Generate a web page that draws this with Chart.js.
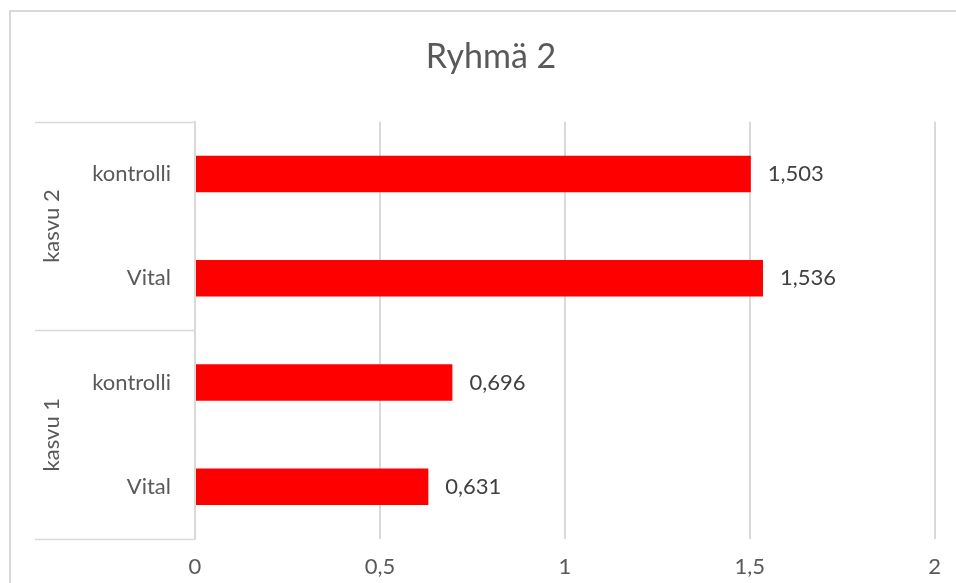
<!DOCTYPE html>
<html>
<head>
<meta charset="utf-8">
<script src="https://cdn.jsdelivr.net/npm/chart.js@4"></script>
<style>
  body { margin: 0; background: #fff; }
</style>
</head>
<body>
<canvas id="chart" width="956" height="583"></canvas>
<script>
// ================================
// DATA
// ================================
const groups = ["kasvu 2", "kasvu 1"];
const groupSizes = [2, 2];
const treatments = ["kontrolli", "Vital", "kontrolli", "Vital"];
const values = [1.503, 1.536, 0.696, 0.631];

const FONT = "Lato";
const GRID = "#d9d9d9";

function fi(v) {
  return String(v).replace(".", ",");
}

// ================================
// FRAME, GROUP LABELS, VALUE LABELS
// ================================
const groupAxis = {
  id: "groupAxis",
  beforeDraw(chart) {
    const ctx = chart.ctx;
    ctx.save();
    ctx.strokeStyle = GRID;
    ctx.lineWidth = 2;
    ctx.beginPath();
    ctx.moveTo(10, chart.height);
    ctx.lineTo(10, 11);
    ctx.lineTo(chart.width, 11);
    ctx.stroke();
    ctx.restore();
  },
  afterDraw(chart) {
    const ctx = chart.ctx;
    const y = chart.scales.y;
    const area = chart.chartArea;
    const left = 35;
    ctx.save();
    ctx.strokeStyle = GRID;
    ctx.lineWidth = 1.5;

    let start = 0;
    const edges = [area.top];
    groups.forEach((g, gi) => {
      const end = start + groupSizes[gi] - 1;
      const bottom = end < treatments.length - 1
        ? (y.getPixelForValue(end) + y.getPixelForValue(end + 1)) / 2
        : area.bottom;
      edges.push(bottom);
      const mid = (y.getPixelForValue(start) + y.getPixelForValue(end)) / 2;
      ctx.save();
      ctx.translate(52, mid);
      ctx.rotate(-Math.PI / 2);
      ctx.fillStyle = "#595959";
      ctx.font = "22px " + FONT;
      ctx.textAlign = "center";
      ctx.textBaseline = "middle";
      ctx.fillText(g, 0, 0);
      ctx.restore();
      start = end + 1;
    });

    edges.forEach(e => {
      ctx.beginPath();
      ctx.moveTo(left, Math.round(e) + 0.5);
      ctx.lineTo(area.left, Math.round(e) + 0.5);
      ctx.stroke();
    });

    // value labels next to each bar
    const meta = chart.getDatasetMeta(0);
    ctx.fillStyle = "#404040";
    ctx.font = "22px " + FONT;
    ctx.textAlign = "left";
    ctx.textBaseline = "middle";
    meta.data.forEach((bar, i) => {
      ctx.fillText(fi(values[i]), bar.x + 17, bar.y);
    });
    ctx.restore();
  }
};

// ================================
// BAR CHART
// ================================
new Chart(document.getElementById("chart"), {
  type: "bar",
  data: {
    labels: treatments,
    datasets: [{
      data: values,
      backgroundColor: "#ff0000",
      barPercentage: 0.35,
      categoryPercentage: 1
    }]
  },
  options: {
    indexAxis: "y",
    responsive: false,
    animation: false,
    layout: {
      padding: { left: 45, right: 19, top: 0, bottom: 0 }
    },
    plugins: {
      legend: { display: false },
      tooltip: { enabled: false },
      title: {
        display: true,
        text: "Ryhmä 2",
        color: "#595959",
        font: { family: FONT, size: 34, weight: "normal" },
        padding: { top: 37, bottom: 44 }
      }
    },
    scales: {
      x: {
        min: 0,
        max: 2,
        ticks: {
          stepSize: 0.5,
          color: "#595959",
          font: { family: FONT, size: 22 },
          padding: 15,
          callback: v => fi(v)
        },
        grid: { color: GRID, lineWidth: 2, drawTicks: false },
        border: { display: false },
        afterFit: s => { s.height = 44; }
      },
      y: {
        ticks: {
          color: "#595959",
          font: { family: FONT, size: 22 },
          padding: 24
        },
        grid: { display: false, drawTicks: false },
        border: { display: true, color: GRID, width: 2 },
        afterFit: s => { s.width = 150; }
      }
    }
  },
  plugins: [groupAxis]
});
</script>
</body>
</html>
